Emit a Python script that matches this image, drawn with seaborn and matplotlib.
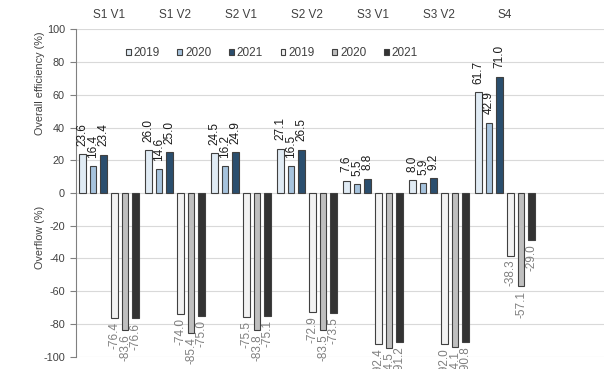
import matplotlib
matplotlib.use("Agg")
import matplotlib.pyplot as plt
import seaborn as sns
import pandas as pd

# Scenario groups and yearly results
groups = ["S1 V1", "S1 V2", "S2 V1", "S2 V2", "S3 V1", "S3 V2", "S4"]
years = ["2019", "2020", "2021"]

efficiency_2019 = [23.6, 26.0, 24.5, 27.1, 7.6, 8.0, 61.7]
efficiency_2020 = [16.4, 14.6, 16.2, 16.5, 5.5, 5.9, 42.9]
efficiency_2021 = [23.4, 25.0, 24.9, 26.5, 8.8, 9.2, 71.0]

overflow_2019 = [-76.4, -74.0, -75.5, -72.9, -92.4, -92.0, -38.3]
overflow_2020 = [-83.6, -85.4, -83.8, -83.5, -94.5, -94.1, -57.1]
overflow_2021 = [-76.6, -75.0, -75.1, -73.5, -91.2, -90.8, -29.0]

y_ticks = [-100, -80, -60, -40, -20, 0, 20, 40, 60, 80, 100]

series = {
    "Efficiency 2019": efficiency_2019,
    "Efficiency 2020": efficiency_2020,
    "Efficiency 2021": efficiency_2021,
    "Overflow 2019": overflow_2019,
    "Overflow 2020": overflow_2020,
    "Overflow 2021": overflow_2021,
}
series_order = list(series.keys())
palette = {
    "Efficiency 2019": "#DDEBF7",
    "Efficiency 2020": "#9DC3E6",
    "Efficiency 2021": "#1F4E79",
    "Overflow 2019": "#F2F2F2",
    "Overflow 2020": "#BFBFBF",
    "Overflow 2021": "#333333",
}

rows = []
for name, vals in series.items():
    for g, v in zip(groups, vals):
        rows.append({"group": g, "series": name, "value": v})
df = pd.DataFrame(rows)

sns.set_theme(style="white")
plt.rcParams["font.family"] = ["Liberation Sans", "DejaVu Sans"]
plt.rcParams["axes.unicode_minus"] = False

text_color = "#404040"
fs = 7.8
fs_big = 8.5

fig = plt.figure(figsize=(6.05, 3.69), dpi=100)
ax = fig.add_axes([76 / 605, 1 - 356.7 / 369, 528 / 605, 327.4 / 369])

sns.barplot(
    data=df, x="group", y="value", hue="series",
    order=groups, hue_order=series_order, palette=palette,
    width=0.97, gap=0.37, edgecolor="#404040", linewidth=0.8,
    ax=ax, legend=True,
)

# Value labels on every bar: dark above, grey below
for i, cont in enumerate(ax.containers):
    if i < 3:
        ax.bar_label(cont, fmt="%.1f", rotation=90, padding=6,
                     fontsize=fs_big, color="#1a1a1a")
    else:
        ax.bar_label(cont, fmt="%.1f", rotation=90, padding=3,
                     fontsize=fs_big, color="#7f7f7f")

ax.set_ylim(-100, 100)
ax.set_xlim(-0.5, 7.5)
ax.set_yticks(y_ticks)
ax.set_yticklabels([str(t) for t in y_ticks])
ax.yaxis.grid(True, color="#D9D9D9", linewidth=0.8)
ax.set_axisbelow(True)

for side in ["top", "right", "bottom"]:
    ax.spines[side].set_visible(False)
ax.spines["left"].set_color("#808080")
ax.spines["left"].set_linewidth(0.8)

ax.tick_params(axis="y", direction="out", length=4, width=0.8,
               color="#808080", labelsize=fs, labelcolor=text_color, pad=4,
               left=True)

# Group names along the top edge
ax.xaxis.tick_top()
ax.set_xticks(range(len(groups)))
ax.set_xticklabels(groups)
ax.tick_params(axis="x", length=0, labelsize=fs_big, labelcolor=text_color, pad=6)
ax.set_xlabel("")
ax.set_ylabel("")

fig.text(40 / 605, 1 - 83 / 369, "Overall efficiency (%)", rotation=90,
         ha="center", va="center", fontsize=fs, color=text_color)
fig.text(40 / 605, 1 - 237 / 369, "Overflow (%)", rotation=90,
         ha="center", va="center", fontsize=fs, color=text_color)

handles, _ = ax.get_legend_handles_labels()
ax.legend(handles, years + years, loc="center", bbox_to_anchor=(0.371, 0.928),
          ncol=6, frameon=False, fontsize=fs_big, labelcolor=text_color,
          handlelength=0.4, handleheight=0.4, handletextpad=0.25,
          columnspacing=1.5, borderaxespad=0)

fig.savefig("out.png", dpi=100)
